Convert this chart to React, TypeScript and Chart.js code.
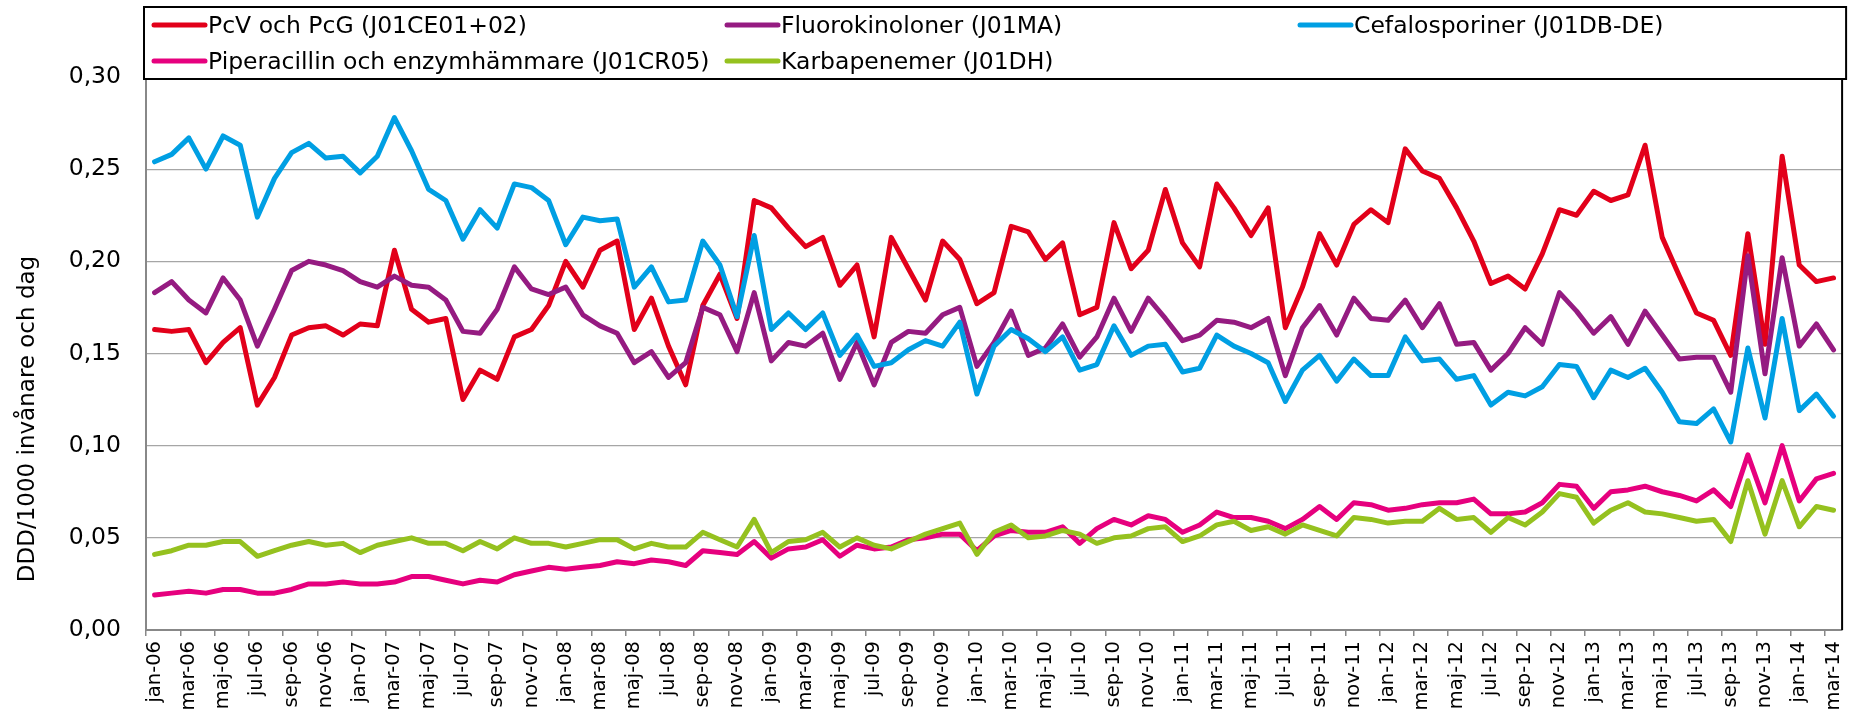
import React, { useEffect, useRef } from "react";
import { Chart, registerables } from "chart.js";

Chart.register(...registerables);

const monthNames = ["jan", "feb", "mar", "apr", "maj", "jun", "jul", "aug", "sep", "okt", "nov", "dec"];
const firstYear = 6;
const monthCount = 99;
const categories = Array.from({ length: monthCount }, (_, i) =>
  `${monthNames[i % 12]}-${String(firstYear + Math.floor(i / 12)).padStart(2, "0")}`
);

const yTicks = [0, 0.05, 0.1, 0.15, 0.2, 0.25, 0.3];
const yTitle = "DDD/1000 invånare och dag";

const pcv = [
  0.163, 0.162, 0.163, 0.145, 0.156, 0.164, 0.122, 0.137, 0.160, 0.164, 0.165, 0.160, 0.166, 0.165, 0.206, 0.174, 0.167,
  0.169, 0.125, 0.141, 0.136, 0.159, 0.163, 0.176, 0.200, 0.186, 0.206, 0.211, 0.163, 0.180, 0.154, 0.133, 0.176, 0.193,
  0.169, 0.233, 0.229, 0.218, 0.208, 0.213, 0.187, 0.198, 0.159, 0.213, 0.196, 0.179, 0.211, 0.201, 0.177, 0.183, 0.219,
  0.216, 0.201, 0.210, 0.171, 0.175, 0.221, 0.196, 0.206, 0.239, 0.210, 0.197, 0.242, 0.229, 0.214, 0.229, 0.164, 0.186,
  0.215, 0.198, 0.220, 0.228, 0.221, 0.261, 0.249, 0.245, 0.229, 0.211, 0.188, 0.192, 0.185, 0.204, 0.228, 0.225, 0.238,
  0.233, 0.236, 0.263, 0.213, 0.192, 0.172, 0.168, 0.149, 0.215, 0.155, 0.257, 0.198, 0.189, 0.191,
];

const fluoro = [
  0.183, 0.189, 0.179, 0.172, 0.191, 0.179, 0.154, 0.174, 0.195, 0.200, 0.198, 0.195, 0.189, 0.186, 0.192, 0.187, 0.186,
  0.179, 0.162, 0.161, 0.174, 0.197, 0.185, 0.182, 0.186, 0.171, 0.165, 0.161, 0.145, 0.151, 0.137, 0.145, 0.175, 0.171,
  0.151, 0.183, 0.146, 0.156, 0.154, 0.161, 0.136, 0.156, 0.133, 0.156, 0.162, 0.161, 0.171, 0.175, 0.143, 0.156, 0.173,
  0.149, 0.153, 0.166, 0.148, 0.159, 0.180, 0.162, 0.180, 0.169, 0.157, 0.160, 0.168, 0.167, 0.164, 0.169, 0.138, 0.164,
  0.176, 0.160, 0.180, 0.169, 0.168, 0.179, 0.164, 0.177, 0.155, 0.156, 0.141, 0.150, 0.164, 0.155, 0.183, 0.173, 0.161,
  0.170, 0.155, 0.173, 0.160, 0.147, 0.148, 0.148, 0.129, 0.203, 0.139, 0.202, 0.154, 0.166, 0.152,
];

const cefalo = [
  0.254, 0.258, 0.267, 0.250, 0.268, 0.263, 0.224, 0.245, 0.259, 0.264, 0.256, 0.257, 0.248, 0.257, 0.278, 0.260, 0.239,
  0.233, 0.212, 0.228, 0.218, 0.242, 0.240, 0.233, 0.209, 0.224, 0.222, 0.223, 0.186, 0.197, 0.178, 0.179, 0.211, 0.198,
  0.170, 0.214, 0.163, 0.172, 0.163, 0.172, 0.149, 0.160, 0.143, 0.145, 0.152, 0.157, 0.154, 0.167, 0.128, 0.154, 0.163,
  0.158, 0.151, 0.159, 0.141, 0.144, 0.165, 0.149, 0.154, 0.155, 0.140, 0.142, 0.160, 0.154, 0.150, 0.145, 0.124, 0.141,
  0.149, 0.135, 0.147, 0.138, 0.138, 0.159, 0.146, 0.147, 0.136, 0.138, 0.122, 0.129, 0.127, 0.132, 0.144, 0.143, 0.126,
  0.141, 0.137, 0.142, 0.129, 0.113, 0.112, 0.120, 0.102, 0.153, 0.115, 0.169, 0.119, 0.128, 0.116,
];

const pipera = [
  0.019, 0.020, 0.021, 0.020, 0.022, 0.022, 0.020, 0.020, 0.022, 0.025, 0.025, 0.026, 0.025, 0.025, 0.026, 0.029, 0.029,
  0.027, 0.025, 0.027, 0.026, 0.030, 0.032, 0.034, 0.033, 0.034, 0.035, 0.037, 0.036, 0.038, 0.037, 0.035, 0.043, 0.042,
  0.041, 0.048, 0.039, 0.044, 0.045, 0.049, 0.040, 0.046, 0.044, 0.045, 0.049, 0.050, 0.052, 0.052, 0.043, 0.051, 0.054,
  0.053, 0.053, 0.056, 0.047, 0.055, 0.060, 0.057, 0.062, 0.060, 0.053, 0.057, 0.064, 0.061, 0.061, 0.059, 0.055, 0.060,
  0.067, 0.060, 0.069, 0.068, 0.065, 0.066, 0.068, 0.069, 0.069, 0.071, 0.063, 0.063, 0.064, 0.069, 0.079, 0.078, 0.066,
  0.075, 0.076, 0.078, 0.075, 0.073, 0.070, 0.076, 0.067, 0.095, 0.069, 0.100, 0.070, 0.082, 0.085,
];

const karba = [
  0.041, 0.043, 0.046, 0.046, 0.048, 0.048, 0.040, 0.043, 0.046, 0.048, 0.046, 0.047, 0.042, 0.046, 0.048, 0.050, 0.047,
  0.047, 0.043, 0.048, 0.044, 0.050, 0.047, 0.047, 0.045, 0.047, 0.049, 0.049, 0.044, 0.047, 0.045, 0.045, 0.053, 0.049,
  0.045, 0.060, 0.042, 0.048, 0.049, 0.053, 0.045, 0.050, 0.046, 0.044, 0.048, 0.052, 0.055, 0.058, 0.041, 0.053, 0.057,
  0.050, 0.051, 0.054, 0.052, 0.047, 0.050, 0.051, 0.055, 0.056, 0.048, 0.051, 0.057, 0.059, 0.054, 0.056, 0.052, 0.057,
  0.054, 0.051, 0.061, 0.060, 0.058, 0.059, 0.059, 0.066, 0.060, 0.061, 0.053, 0.061, 0.057, 0.064, 0.074, 0.072, 0.058,
  0.065, 0.069, 0.064, 0.063, 0.061, 0.059, 0.060, 0.048, 0.081, 0.052, 0.081, 0.056, 0.067, 0.065,
];

const seriesNames = [
  "PcV och PcG (J01CE01+02)",
  "Fluorokinoloner (J01MA)",
  "Cefalosporiner (J01DB-DE)",
  "Piperacillin och enzymhämmare (J01CR05)",
  "Karbapenemer (J01DH)",
];
const seriesValues = [pcv, fluoro, cefalo, pipera, karba];
const seriesColors = ["#e2001a", "#951b81", "#009fe3", "#e6007e", "#95c11f"];

const FONT = "DejaVu Sans";

const boxLegendPlugin = {
  id: "boxLegend",
  afterDraw(chart: any) {
    const { ctx, chartArea } = chart;
    const left = chartArea.left - 2;
    const right = chartArea.right + 4;
    const top = 7;
    const bottom = chartArea.top + 2;
    ctx.save();
    // right border of plot area
    ctx.strokeStyle = "#000";
    ctx.lineWidth = 2;
    ctx.beginPath();
    ctx.moveTo(chartArea.right, chartArea.top);
    ctx.lineTo(chartArea.right, chartArea.bottom);
    ctx.stroke();
    // legend box
    ctx.fillStyle = "#fff";
    ctx.fillRect(left, top, right - left, bottom - top);
    ctx.strokeStyle = "#000";
    ctx.lineWidth = 2;
    ctx.strokeRect(left, top, right - left, bottom - top);
    const colWidth = 573;
    const rows = [
      { line: 25, base: 33 },
      { line: 61, base: 69 },
    ];
    ctx.font = `23.5px "${FONT}"`;
    ctx.textBaseline = "alphabetic";
    ctx.textAlign = "left";
    seriesNames.forEach((name, i) => {
      const col = i % 3;
      const row = Math.floor(i / 3);
      const x = left + 8 + col * colWidth;
      ctx.strokeStyle = seriesColors[i];
      ctx.lineWidth = 5;
      ctx.lineCap = "round";
      ctx.beginPath();
      ctx.moveTo(x + 2, rows[row].line);
      ctx.lineTo(x + 53, rows[row].line);
      ctx.stroke();
      ctx.fillStyle = "#000";
      ctx.fillText(name, x + 56, rows[row].base);
    });
    // y axis title
    ctx.translate(28, 419);
    ctx.rotate(-Math.PI / 2);
    ctx.font = `23px "${FONT}"`;
    ctx.textAlign = "center";
    ctx.textBaseline = "middle";
    ctx.fillStyle = "#000";
    ctx.fillText(yTitle, 0, 0);
    ctx.restore();
  },
};

export default function App() {
  const canvasRef = useRef<HTMLCanvasElement | null>(null);

  useEffect(() => {
    const canvas = canvasRef.current;
    if (!canvas) return;
    Chart.defaults.font.family = FONT;
    Chart.defaults.color = "#000";
    const chart = new Chart(canvas, {
      type: "line",
      data: {
        labels: categories,
        datasets: seriesValues.map((vals, i) => ({
          label: seriesNames[i],
          data: vals,
          borderColor: seriesColors[i],
          backgroundColor: seriesColors[i],
          borderWidth: 5,
          pointRadius: 0,
          pointHoverRadius: 0,
          tension: 0,
          fill: false,
          borderJoinStyle: "round" as const,
          borderCapStyle: "round" as const,
          order: seriesValues.length - i,
        })),
      },
      options: {
        responsive: false,
        animation: false,
        events: [],
        layout: { padding: { left: 0, top: 77, right: 13, bottom: 0 } },
        plugins: {
          legend: { display: false },
          tooltip: { enabled: false },
          title: { display: false },
        },
        scales: {
          x: {
            type: "category",
            offset: true,
            afterFit: (scale: any) => {
              scale.height = 80;
            },
            grid: {
              offset: true,
              drawOnChartArea: false,
              drawTicks: true,
              tickLength: 6,
              color: (ctx: any) => (typeof ctx.index === "number" && ctx.index % 2 === 0 ? "#888" : "rgba(0,0,0,0)"),
              tickColor: (ctx: any) => (typeof ctx.index === "number" && ctx.index % 2 === 0 ? "#888" : "rgba(0,0,0,0)"),
              lineWidth: 1.5,
            },
            border: { display: true, color: "#888", width: 2 },
            ticks: {
              autoSkip: false,
              maxRotation: 90,
              minRotation: 90,
              padding: 5,
              font: { size: 19.5, family: FONT },
              color: "#000",
              callback: (_v: any, index: number) => (index % 2 === 0 ? categories[index] : ""),
            },
          },
          y: {
            min: yTicks[0],
            max: yTicks[yTicks.length - 1],
            afterFit: (scale: any) => {
              scale.width = 146;
            },
            afterBuildTicks: (scale: any) => {
              scale.ticks = yTicks.map((v) => ({ value: v }));
            },
            grid: {
              color: "#a6a6a6",
              lineWidth: 1.2,
              drawTicks: false,
            },
            border: { display: true, color: "#888", width: 2 },
            ticks: {
              padding: 25,
              font: { size: 23.5, family: FONT },
              color: "#000",
              callback: (v: any) => Number(v).toFixed(2).replace(".", ","),
            },
          },
        },
      },
      plugins: [boxLegendPlugin],
    });
    return () => chart.destroy();
  }, []);

  return (
    <div style={{ position: "fixed", left: 0, top: 0, width: 1862, height: 710, background: "#fff" }}>
      <canvas ref={canvasRef} width={1862} height={710} style={{ width: 1862, height: 710, display: "block" }} />
    </div>
  );
}
